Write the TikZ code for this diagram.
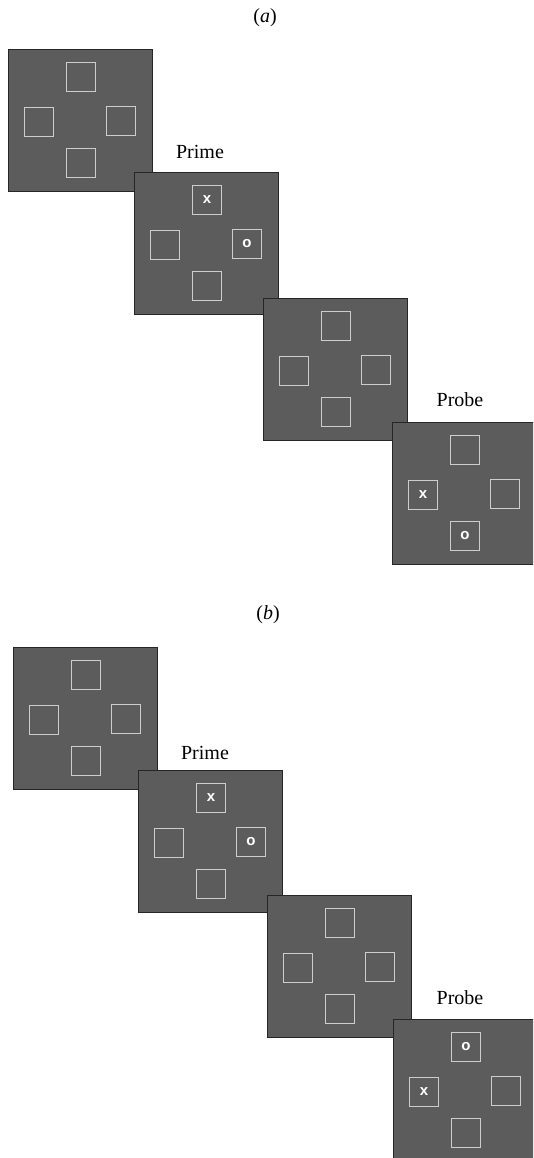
\documentclass[tikz,border=0pt]{standalone}
\usepackage{fontspec}
\setmainfont{Liberation Serif}
\newfontfamily\markfont{Liberation Sans}
\definecolor{panelgray}{RGB}{92,92,92}
\definecolor{sqline}{RGB}{205,205,205}
\begin{document}
\begin{tikzpicture}[x=1pt,y=-1pt,
  panel/.style={draw=black!85,line width=0.8pt,fill=panelgray,minimum width=144pt,minimum height=142pt,inner sep=0pt},
  sq/.style={draw=sqline,line width=1.4pt,minimum size=29pt,inner sep=0pt,text=white,font=\markfont\bfseries\fontsize{15}{15}\selectfont},
  lbl/.style={font=\fontsize{20}{24}\selectfont,inner sep=0pt}]
\useasboundingbox (0,0) rectangle (533,1158);
\clip (0,0) rectangle (533,1158);
% panel macro: name, center, top mark, left mark, right mark, bottom mark
\newcommand\stimpanel[6]{%
  \node[panel] (#1) at (#2) {};
  \node[sq] (#1t) at ([shift={(1,-43)}]#1.center) {#3};
  \node[sq] (#1l) at ([shift={(-41,2)}]#1.center) {#4};
  \node[sq] (#1r) at ([shift={(41,1)}]#1.center) {#5};
  \node[sq] (#1b) at ([shift={(1,43)}]#1.center) {#6};
}
% (a)
\node[lbl] (la) at (265,18) {(\textit{a})};
\stimpanel{aA}{80,120}{}{}{}{}
\node[lbl] (primeA) at (200,152) {Prime};
\stimpanel{aB}{206,243}{x}{}{o}{}
\stimpanel{aC}{335,369}{}{}{}{}
\node[lbl] (probeA) at (460,400) {Probe};
\stimpanel{aD}{464,493}{}{x}{}{o}
% (b)
\node[lbl] (lb) at (268,615) {(\textit{b})};
\stimpanel{bA}{85,718}{}{}{}{}
\node[lbl] (primeB) at (205,753) {Prime};
\stimpanel{bB}{210,841}{x}{}{o}{}
\stimpanel{bC}{339,966}{}{}{}{}
\node[lbl] (probeB) at (460,998) {Probe};
\stimpanel{bD}{465,1090}{o}{x}{}{}
\end{tikzpicture}
\end{document}
